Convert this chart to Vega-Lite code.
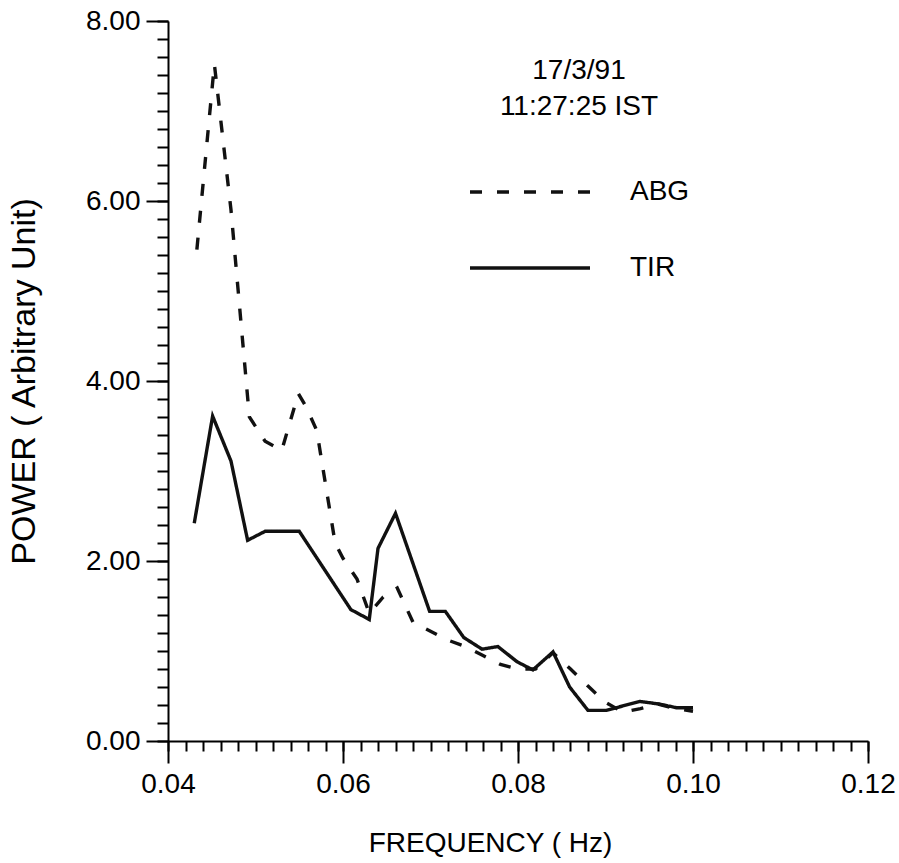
{
  "$schema": "https://vega.github.io/schema/vega-lite/v6.json",
  "autosize": "none",
  "width": 700,
  "height": 720,
  "padding": {"left": 168, "top": 21, "right": 31, "bottom": 122},
  "background": "white",
  "config": {
    "view": {"stroke": null},
    "font": "Liberation Sans",
    "axis": {"domainColor": "black", "tickColor": "black", "labelColor": "black", "titleColor": "black", "labelFont": "Liberation Sans", "titleFont": "Liberation Sans", "titleFontWeight": "normal", "grid": false}
  },
  "data": {"values": [
    {"f": 0.0430, "p": 2.42, "s": "TIR"},
    {"f": 0.0451, "p": 3.61, "s": "TIR"},
    {"f": 0.0472, "p": 3.11, "s": "TIR"},
    {"f": 0.0491, "p": 2.23, "s": "TIR"},
    {"f": 0.0511, "p": 2.33, "s": "TIR"},
    {"f": 0.0550, "p": 2.33, "s": "TIR"},
    {"f": 0.0609, "p": 1.46, "s": "TIR"},
    {"f": 0.0630, "p": 1.35, "s": "TIR"},
    {"f": 0.0640, "p": 2.14, "s": "TIR"},
    {"f": 0.0660, "p": 2.53, "s": "TIR"},
    {"f": 0.0699, "p": 1.44, "s": "TIR"},
    {"f": 0.0717, "p": 1.44, "s": "TIR"},
    {"f": 0.0738, "p": 1.15, "s": "TIR"},
    {"f": 0.0759, "p": 1.02, "s": "TIR"},
    {"f": 0.0777, "p": 1.05, "s": "TIR"},
    {"f": 0.0799, "p": 0.88, "s": "TIR"},
    {"f": 0.0817, "p": 0.79, "s": "TIR"},
    {"f": 0.0840, "p": 0.99, "s": "TIR"},
    {"f": 0.0859, "p": 0.60, "s": "TIR"},
    {"f": 0.0880, "p": 0.34, "s": "TIR"},
    {"f": 0.0901, "p": 0.34, "s": "TIR"},
    {"f": 0.0939, "p": 0.44, "s": "TIR"},
    {"f": 0.0962, "p": 0.41, "s": "TIR"},
    {"f": 0.0981, "p": 0.37, "s": "TIR"},
    {"f": 0.1000, "p": 0.37, "s": "TIR"},
    {"f": 0.0433, "p": 5.46, "s": "ABG"},
    {"f": 0.0453, "p": 7.52, "s": "ABG"},
    {"f": 0.0472, "p": 5.90, "s": "ABG"},
    {"f": 0.0493, "p": 3.60, "s": "ABG"},
    {"f": 0.0511, "p": 3.33, "s": "ABG"},
    {"f": 0.0530, "p": 3.23, "s": "ABG"},
    {"f": 0.0549, "p": 3.86, "s": "ABG"},
    {"f": 0.0558, "p": 3.71, "s": "ABG"},
    {"f": 0.0570, "p": 3.45, "s": "ABG"},
    {"f": 0.0591, "p": 2.20, "s": "ABG"},
    {"f": 0.0600, "p": 2.03, "s": "ABG"},
    {"f": 0.0616, "p": 1.80, "s": "ABG"},
    {"f": 0.0630, "p": 1.42, "s": "ABG"},
    {"f": 0.0646, "p": 1.60, "s": "ABG"},
    {"f": 0.0662, "p": 1.70, "s": "ABG"},
    {"f": 0.0680, "p": 1.32, "s": "ABG"},
    {"f": 0.0700, "p": 1.22, "s": "ABG"},
    {"f": 0.0720, "p": 1.12, "s": "ABG"},
    {"f": 0.0740, "p": 1.05, "s": "ABG"},
    {"f": 0.0760, "p": 0.95, "s": "ABG"},
    {"f": 0.0780, "p": 0.85, "s": "ABG"},
    {"f": 0.0800, "p": 0.80, "s": "ABG"},
    {"f": 0.0820, "p": 0.80, "s": "ABG"},
    {"f": 0.0840, "p": 0.98, "s": "ABG"},
    {"f": 0.0860, "p": 0.80, "s": "ABG"},
    {"f": 0.0880, "p": 0.61, "s": "ABG"},
    {"f": 0.0900, "p": 0.43, "s": "ABG"},
    {"f": 0.0920, "p": 0.32, "s": "ABG"},
    {"f": 0.0940, "p": 0.36, "s": "ABG"},
    {"f": 0.0960, "p": 0.41, "s": "ABG"},
    {"f": 0.0980, "p": 0.36, "s": "ABG"},
    {"f": 0.1000, "p": 0.33, "s": "ABG"}
  ]},
  "resolve": {"axis": {"x": "independent", "y": "independent"}},
  "layer": [
    {
      "mark": {"type": "line", "color": "#111111", "strokeWidth": 3.4, "clip": false},
      "encoding": {
        "x": {
          "field": "f", "type": "quantitative",
          "scale": {"domain": [0.04, 0.12], "nice": false, "zero": false},
          "axis": {
            "orient": "bottom",
            "title": "FREQUENCY ( Hz)",
            "titleFontSize": 28,
            "titlePadding": 31,
            "titleX": 322,
            "values": [0.04, 0.06, 0.08, 0.1, 0.12],
            "format": ".2f",
            "labelFontSize": 28,
            "labelPadding": 7,
            "labelFlush": false,
            "labelOverlap": false,
            "domainWidth": 2,
            "tickWidth": 2,
            "tickSize": 22
          }
        },
        "y": {
          "field": "p", "type": "quantitative",
          "scale": {"domain": [0, 8], "nice": false},
          "axis": {
            "orient": "left",
            "title": "POWER ( Arbitrary Unit)",
            "titleFontSize": 34,
            "titlePadding": 44,
            "values": [0, 2, 4, 6, 8],
            "format": ".2f",
            "labelFontSize": 28,
            "labelPadding": 6,
            "labelFlush": false,
            "labelOverlap": false,
            "domainWidth": 2,
            "tickWidth": 2,
            "tickSize": 22
          }
        },
        "strokeDash": {
          "field": "s", "type": "nominal",
          "scale": {"domain": ["ABG", "TIR"], "range": [[12, 15], [1, 0]]},
          "legend": {
            "title": ["17/3/91", "11:27:25 IST"],
            "orient": "none",
            "legendX": 300,
            "legendY": 36,
            "padding": 0,
            "titleFont": "Liberation Sans",
            "titleFontSize": 28,
            "titleFontWeight": "normal",
            "titleColor": "black",
            "titleAnchor": "middle",
            "titleAlign": "center",
            "titleLineHeight": 36,
            "titlePadding": 9,
            "symbolType": "stroke",
            "symbolSize": 14400,
            "symbolStrokeWidth": 3.4,
            "symbolStrokeColor": "#111111",
            "labelFont": "Liberation Sans",
            "labelFontSize": 28,
            "labelColor": "black",
            "labelOffset": 38,
            "rowPadding": -17
          }
        }
      }
    },
    {
      "mark": {"type": "line", "opacity": 0, "clip": false},
      "encoding": {
        "x": {
          "field": "f", "type": "quantitative",
          "axis": {
            "orient": "bottom",
            "title": null,
            "values": [0.04,0.042,0.044,0.046,0.048,0.05,0.052,0.054,0.056,0.058,0.06,0.062,0.064,0.066,0.068,0.07,0.072,0.074,0.076,0.078,0.08,0.082,0.084,0.086,0.088,0.09,0.092,0.094,0.096,0.098,0.1,0.102,0.104,0.106,0.108,0.11,0.112,0.114,0.116,0.118,0.12],
            "labels": false,
            "domain": false,
            "tickWidth": 2,
            "tickSize": 10
          }
        },
        "y": {
          "field": "p", "type": "quantitative",
          "axis": {
            "orient": "left",
            "title": null,
            "values": [0,0.2,0.4,0.6,0.8,1,1.2,1.4,1.6,1.8,2,2.2,2.4,2.6,2.8,3,3.2,3.4,3.6,3.8,4,4.2,4.4,4.6,4.8,5,5.2,5.4,5.6,5.8,6,6.2,6.4,6.6,6.8,7,7.2,7.4,7.6,7.8,8],
            "labels": false,
            "domain": false,
            "tickWidth": 2,
            "tickSize": 11
          }
        },
        "detail": {"field": "s", "type": "nominal"}
      }
    }
  ]
}
